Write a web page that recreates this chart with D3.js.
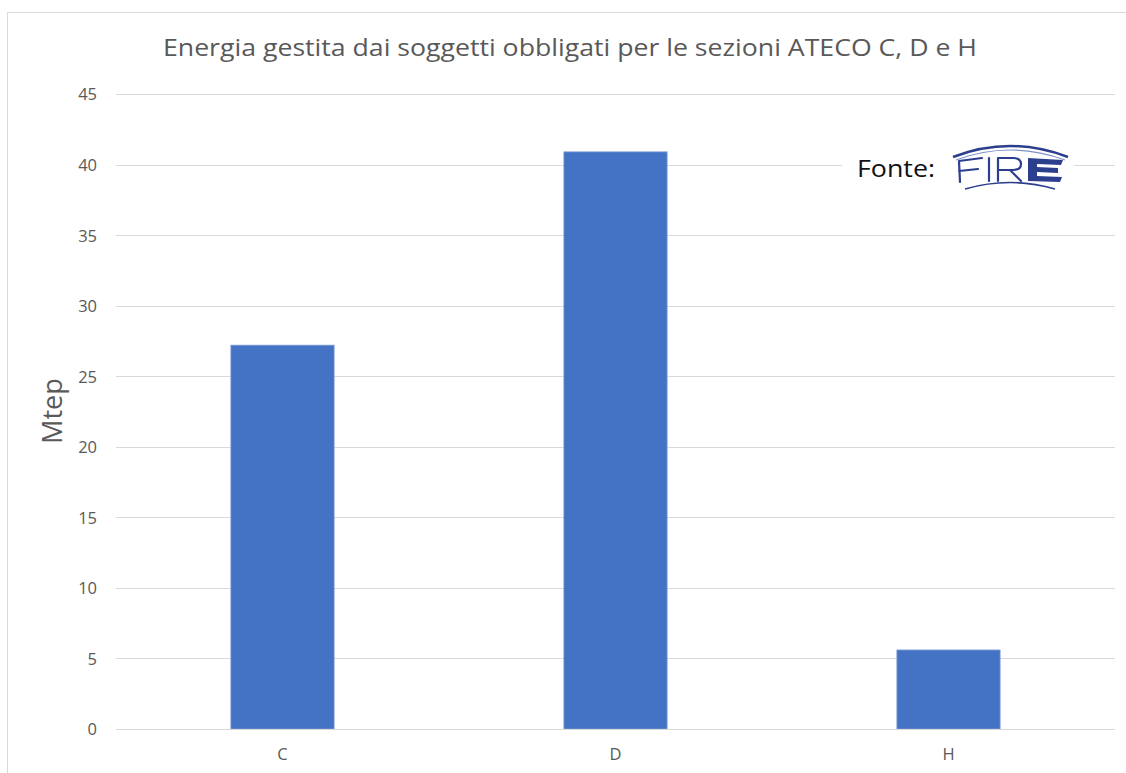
<!DOCTYPE html>
<html><head><meta charset="utf-8">
<script src="https://cdn.jsdelivr.net/npm/d3@7"></script>
<style>body{margin:0;background:#fff}svg{display:block}</style>
</head><body>
<script>
const categories = ["C", "D", "H"];
const values = [27.2, 40.9, 5.6];
const yTicks = [0, 5, 10, 15, 20, 25, 30, 35, 40, 45];
const titleText = "Energia gestita dai soggetti obbligati per le sezioni ATECO C, D e H";
const yLabel = "Mtep";

const W = 1126, H = 773;
const svg = d3.select("body").append("svg").attr("width", W).attr("height", H);
svg.append("rect").attr("x", 7.5).attr("y", 12.5).attr("width", 1130).attr("height", 780)
  .attr("fill", "#fff").attr("stroke", "#d9d9d9").attr("stroke-width", 1);

const x = d3.scaleBand().domain(categories).range([116, 1115]).paddingInner(0.69).paddingOuter(0.345);
const y = d3.scaleLinear().domain([0, 45]).range([729, 94]);

const font = "'Open Sans', sans-serif";
// gridlines
svg.append("g").selectAll("line").data(yTicks).join("line")
  .attr("x1", 116).attr("x2", 1115).attr("y1", d => Math.round(y(d)) + 0.5).attr("y2", d => Math.round(y(d)) + 0.5)
  .attr("stroke", "#d9d9d9").attr("stroke-width", 1);

// y axis labels
const yAxis = d3.axisLeft(y).tickValues(yTicks).tickSize(0).tickPadding(0);
const gy = svg.append("g").attr("transform", "translate(97,0)").call(yAxis)
  .attr("font-family", font).attr("font-size", 16.5);
gy.select(".domain").remove();
gy.selectAll("text").attr("fill", "#595959").attr("dy", "0.36em");

// bars
svg.append("g").selectAll("rect").data(values).join("rect")
  .attr("x", (d, i) => x(categories[i])).attr("width", x.bandwidth())
  .attr("y", d => y(d)).attr("height", d => y(0) - y(d))
  .attr("fill", "#4472c4").attr("stroke", "#7f9ed6").attr("stroke-width", 0.8);

// x axis
const xAxis = d3.axisBottom(x).tickSize(0).tickPadding(19);
const gx = svg.append("g").attr("transform", "translate(0,729.5)").call(xAxis)
  .attr("font-family", font).attr("font-size", 16.5);
gx.select(".domain").attr("stroke", "#d9d9d9").attr("d", "M116,0H1115");
gx.selectAll("text").attr("fill", "#595959");

// title
svg.append("text").attr("x", 570).attr("y", 56).attr("text-anchor", "middle")
  .attr("font-family", font).attr("font-size", 23).attr("fill", "#595959")
  .attr("textLength", 814).attr("lengthAdjust", "spacingAndGlyphs").text(titleText);

// y label
svg.append("text").attr("transform", "translate(62,411) rotate(-90)").attr("text-anchor", "middle")
  .attr("font-family", font).attr("font-size", 28).attr("fill", "#595959")
  .attr("textLength", 66).attr("lengthAdjust", "spacingAndGlyphs").text(yLabel);

// source logo
const lg = svg.append("g");
lg.append("rect").attr("x", 842).attr("y", 140).attr("width", 232).attr("height", 55).attr("fill", "#fff");
lg.append("text").attr("x", 857).attr("y", 177).attr("font-family", font).attr("font-size", 23)
  .attr("fill", "#111").attr("textLength", 78).attr("lengthAdjust", "spacingAndGlyphs").text("Fonte:");
const blue = "#2c3f8f";
lg.append("path").attr("d", "M953,157 Q1010,135 1068,157").attr("fill", "none").attr("stroke", blue).attr("stroke-width", 2.5);
lg.append("path").attr("d", "M956,160 Q1010,140 1065,160").attr("fill", "none").attr("stroke", "#7f93c9").attr("stroke-width", 1.2);
lg.append("path").attr("d", "M965,189 Q1010,176 1055,189").attr("fill", "none").attr("stroke", blue).attr("stroke-width", 1.6);
lg.append("path").attr("d",
  "M959,161 L960,182 M959,161 L982,158 M959,171 L978,169 " +
  "M989,158 L989,181 " +
  "M998,158 L998,181 M998,158 L1013,158 Q1021,158 1021,164 Q1021,170 1013,170 L998,170 M1010,170 L1021,181")
  .attr("fill", "none").attr("stroke", blue).attr("stroke-width", 2.2).attr("stroke-linecap", "round");
lg.append("path").attr("d",
  "M1028,158 L1063,160 L1061,165 L1037,164 L1037,167 L1058,168 L1058,173 L1037,172 L1037,176 L1062,177 L1060,182 L1028,181 Z")
  .attr("fill", blue);
</script>
</body></html>
